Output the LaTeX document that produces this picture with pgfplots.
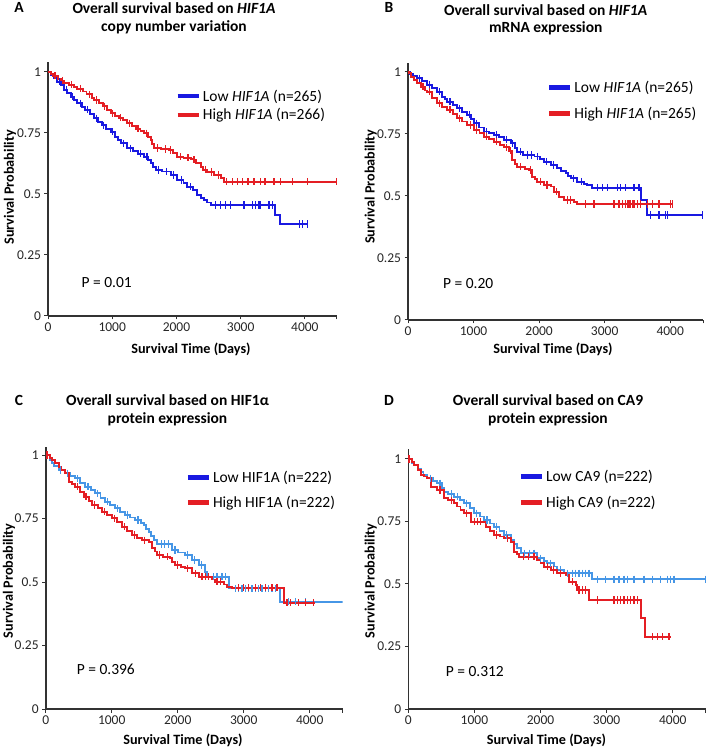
\documentclass[border=0pt]{standalone}
\usepackage{fontspec}
\setmainfont{Carlito}
\usepackage{pgfplots}
\usepackage{pgfplotstable}
\pgfplotsset{compat=1.18}

\definecolor{kmblue}{RGB}{25,25,225}
\definecolor{kmred}{RGB}{228,30,36}
\definecolor{kmlight}{RGB}{70,150,230}
\definecolor{axgray}{RGB}{50,50,50}

% t = days, s = survival, c = 1 for a censored case
\pgfplotstableread{
t s c
0 1.000 0
42 0.988 0
100 0.975 0
145 0.960 0
180 0.960 1
200 0.945 0
249 0.926 0
290 0.926 1
300 0.912 0
353 0.899 0
380 0.899 1
400 0.886 0
457 0.872 0
500 0.872 1
530 0.858 0
580 0.845 0
610 0.845 1
650 0.828 0
716 0.810 0
750 0.810 1
780 0.795 0
840 0.782 0
870 0.782 1
910 0.768 0
976 0.755 0
1010 0.755 1
1040 0.735 0
1090 0.720 0
1132 0.708 0
1180 0.708 1
1236 0.687 0
1280 0.687 1
1330 0.675 0
1400 0.665 0
1440 0.665 1
1495 0.653 0
1540 0.653 1
1560 0.640 0
1600 0.626 0
1640 0.612 0
1677 0.598 0
1720 0.598 1
1780 0.592 0
1850 0.592 1
1911 0.578 0
1960 0.578 1
2014 0.557 0
2080 0.557 1
2110 0.545 0
2170 0.530 0
2220 0.530 1
2260 0.515 0
2326 0.496 0
2380 0.485 0
2430 0.475 0
2480 0.465 0
2534 0.455 0
2612 0.455 1
2690 0.455 1
2768 0.455 1
2846 0.455 1
3053 0.455 1
3183 0.455 1
3235 0.455 1
3287 0.455 1
3313 0.455 1
3442 0.455 1
3494 0.455 1
3540 0.414 0
3608 0.377 0
3910 0.377 1
3962 0.377 1
4039 0.377 1
}\tabAlow

\pgfplotstableread{
t s c
0 1.000 0
40 0.993 0
80 0.985 0
110 0.985 1
150 0.972 0
200 0.965 0
230 0.965 1
250 0.955 0
320 0.948 0
360 0.948 1
400 0.940 0
457 0.932 0
500 0.932 1
540 0.920 0
600 0.908 0
640 0.908 1
680 0.895 0
716 0.885 0
760 0.885 1
800 0.872 0
850 0.860 0
880 0.860 1
920 0.845 0
976 0.830 0
1010 0.830 1
1050 0.820 0
1100 0.812 0
1130 0.812 1
1170 0.802 0
1236 0.790 0
1270 0.790 1
1310 0.778 0
1370 0.768 0
1400 0.768 1
1440 0.758 0
1495 0.749 0
1530 0.749 1
1560 0.735 0
1600 0.720 0
1625 0.705 0
1651 0.688 0
1700 0.688 1
1760 0.684 0
1830 0.684 1
1880 0.680 0
1911 0.680 1
1950 0.668 0
2014 0.653 0
2060 0.653 1
2110 0.648 0
2180 0.648 1
2220 0.643 0
2274 0.640 1
2310 0.628 0
2378 0.612 0
2420 0.600 0
2450 0.600 1
2481 0.590 0
2540 0.590 1
2586 0.578 0
2650 0.578 1
2690 0.565 0
2741 0.550 0
2783 0.550 1
2871 0.550 1
2949 0.550 1
3027 0.550 1
3115 0.550 1
3209 0.550 1
3313 0.550 1
3365 0.550 1
3391 0.550 1
3520 0.550 1
3624 0.550 1
3806 0.550 1
4039 0.550 1
4496 0.550 1
}\tabAhigh

\pgfplotstableread{
t s c
0 1.000 0
30 0.992 0
80 0.982 0
142 0.975 0
180 0.975 1
220 0.962 0
295 0.948 0
330 0.948 1
370 0.935 0
447 0.920 0
480 0.920 1
520 0.900 0
560 0.890 0
600 0.880 0
640 0.880 1
680 0.866 0
752 0.854 0
790 0.854 1
830 0.840 0
905 0.827 0
940 0.827 1
960 0.810 0
1007 0.793 0
1050 0.793 1
1080 0.776 0
1159 0.760 0
1200 0.760 1
1240 0.752 0
1312 0.746 0
1350 0.746 1
1390 0.736 0
1464 0.726 0
1500 0.726 1
1566 0.712 0
1600 0.712 1
1630 0.695 0
1667 0.679 0
1720 0.679 1
1760 0.665 0
1820 0.665 1
1880 0.665 1
1930 0.659 0
1972 0.659 1
2020 0.648 0
2074 0.638 0
2110 0.638 1
2176 0.625 0
2220 0.625 1
2277 0.612 0
2340 0.600 0
2405 0.591 0
2440 0.580 0
2481 0.571 0
2520 0.571 1
2582 0.558 0
2650 0.558 1
2690 0.550 0
2735 0.544 0
2811 0.533 0
2887 0.533 1
2964 0.533 1
3040 0.533 1
3192 0.533 1
3243 0.533 1
3319 0.533 1
3446 0.533 1
3523 0.533 1
3560 0.484 0
3640 0.423 0
3701 0.423 1
3828 0.423 1
3930 0.423 1
3955 0.423 1
4489 0.423 1
}\tabBlow

\pgfplotstableread{
t s c
0 1.000 0
15 0.995 0
50 0.980 0
92 0.968 0
140 0.955 0
193 0.940 0
230 0.940 1
260 0.925 0
295 0.920 0
330 0.920 1
370 0.895 0
447 0.874 0
480 0.874 1
520 0.860 0
600 0.847 0
640 0.847 1
680 0.830 0
752 0.813 0
790 0.813 1
830 0.800 0
905 0.786 0
950 0.786 1
1007 0.766 0
1050 0.766 1
1090 0.752 0
1159 0.739 0
1200 0.739 1
1240 0.730 0
1312 0.719 0
1350 0.719 1
1400 0.707 0
1464 0.696 0
1500 0.696 1
1540 0.683 0
1560 0.683 1
1591 0.645 0
1630 0.630 0
1667 0.618 0
1720 0.618 1
1780 0.610 0
1845 0.605 0
1870 0.605 1
1896 0.578 0
1940 0.568 0
1972 0.558 0
2020 0.558 1
2074 0.544 0
2120 0.544 1
2176 0.538 0
2227 0.517 0
2260 0.517 1
2303 0.497 0
2379 0.484 0
2430 0.484 1
2481 0.484 1
2532 0.476 0
2582 0.468 0
2709 0.468 1
2837 0.468 1
3142 0.468 1
3218 0.468 1
3269 0.468 1
3319 0.468 1
3345 0.468 1
3370 0.468 1
3396 0.468 1
3421 0.468 1
3446 0.468 1
3497 0.468 1
3548 0.468 1
3650 0.468 1
3726 0.468 1
3828 0.468 1
4006 0.468 1
4031 0.468 1
}\tabBhigh

\pgfplotstableread{
t s c
0 1.000 0
20 1.000 1
60 0.980 0
95 0.967 0
130 0.955 0
197 0.941 0
230 0.941 1
297 0.928 0
330 0.928 1
370 0.918 0
448 0.908 0
480 0.908 1
520 0.890 0
600 0.875 0
640 0.875 1
680 0.862 0
751 0.849 0
790 0.849 1
830 0.832 0
903 0.816 0
940 0.816 1
980 0.803 0
1054 0.790 0
1090 0.790 1
1130 0.777 0
1206 0.764 0
1240 0.764 1
1280 0.754 0
1357 0.744 0
1400 0.744 1
1440 0.734 0
1485 0.724 0
1520 0.710 0
1560 0.698 0
1600 0.680 0
1636 0.665 0
1686 0.650 0
1750 0.650 1
1800 0.650 1
1863 0.650 1
1913 0.626 0
1960 0.626 1
2010 0.616 0
2115 0.606 0
2150 0.606 1
2216 0.587 0
2260 0.587 1
2318 0.567 0
2360 0.567 1
2418 0.541 0
2444 0.521 0
2469 0.521 1
2545 0.521 1
2595 0.521 1
2671 0.521 1
2721 0.521 1
2772 0.475 0
2873 0.475 1
2923 0.475 1
2974 0.475 1
3024 0.475 1
3075 0.475 1
3125 0.475 1
3176 0.475 1
3226 0.475 1
3277 0.475 1
3327 0.475 1
3378 0.475 1
3428 0.475 1
3479 0.475 1
3554 0.422 0
3681 0.422 1
3782 0.422 1
3933 0.422 1
4500 0.422 0
}\tabClow

\pgfplotstableread{
t s c
0 1.000 0
20 1.000 1
60 0.990 0
95 0.980 0
140 0.967 0
197 0.954 0
240 0.940 0
297 0.928 0
348 0.895 0
400 0.885 0
448 0.875 0
480 0.875 1
520 0.855 0
575 0.836 0
610 0.836 1
650 0.818 0
701 0.803 0
740 0.803 1
790 0.790 0
853 0.777 0
890 0.777 1
930 0.764 0
1004 0.751 0
1040 0.751 1
1080 0.735 0
1156 0.718 0
1190 0.718 1
1230 0.700 0
1307 0.685 0
1340 0.685 1
1380 0.675 0
1459 0.665 0
1500 0.665 1
1560 0.659 0
1611 0.633 0
1650 0.620 0
1686 0.606 0
1730 0.606 1
1780 0.600 0
1850 0.600 1
1888 0.593 0
1920 0.580 0
1964 0.567 0
2000 0.567 1
2050 0.560 0
2115 0.554 0
2150 0.554 1
2216 0.534 0
2270 0.534 1
2318 0.521 0
2368 0.521 1
2418 0.521 1
2469 0.521 1
2519 0.510 0
2570 0.501 0
2595 0.501 1
2646 0.501 1
2700 0.490 0
2747 0.482 0
2823 0.477 0
2923 0.477 1
2999 0.477 1
3075 0.477 1
3176 0.477 1
3252 0.477 1
3327 0.477 1
3428 0.477 1
3504 0.477 1
3605 0.418 0
3656 0.418 1
3706 0.418 1
3833 0.418 1
3933 0.418 1
4060 0.418 1
4085 0.418 0
}\tabChigh

\pgfplotstableread{
t s c
0 1.000 0
11 1.000 1
50 0.985 0
86 0.976 0
140 0.962 0
187 0.949 0
230 0.936 0
288 0.923 0
330 0.923 1
380 0.912 0
439 0.903 0
480 0.903 1
510 0.885 0
540 0.869 0
600 0.860 0
650 0.860 1
691 0.849 0
740 0.849 1
780 0.836 0
843 0.823 0
880 0.823 1
930 0.803 0
994 0.783 0
1030 0.783 1
1080 0.770 0
1145 0.756 0
1190 0.756 1
1230 0.742 0
1297 0.729 0
1330 0.729 1
1380 0.712 0
1448 0.696 0
1490 0.696 1
1549 0.676 0
1600 0.660 0
1649 0.643 0
1700 0.623 0
1760 0.623 1
1830 0.623 1
1902 0.623 1
1952 0.603 0
2000 0.603 1
2050 0.592 0
2103 0.583 0
2150 0.583 1
2200 0.570 0
2254 0.556 0
2300 0.556 1
2356 0.543 0
2406 0.543 1
2482 0.543 1
2532 0.543 1
2583 0.543 1
2633 0.543 1
2684 0.543 1
2734 0.543 1
2784 0.519 0
2860 0.519 1
2986 0.519 1
3112 0.519 1
3188 0.519 1
3264 0.519 1
3314 0.519 1
3415 0.519 1
3566 0.519 1
3692 0.519 1
3818 0.519 1
3919 0.519 1
3970 0.519 1
4020 0.519 1
4500 0.519 1
}\tabDlow

\pgfplotstableread{
t s c
0 1.000 0
11 1.000 1
50 0.988 0
86 0.976 0
140 0.955 0
187 0.936 0
240 0.930 0
288 0.923 0
338 0.889 0
439 0.876 0
480 0.876 1
540 0.843 0
600 0.835 0
650 0.835 1
691 0.823 0
740 0.810 0
790 0.795 0
843 0.783 0
880 0.783 1
944 0.749 0
1000 0.749 1
1050 0.749 1
1095 0.749 1
1171 0.729 0
1230 0.712 0
1297 0.696 0
1340 0.696 1
1390 0.690 0
1448 0.683 0
1500 0.683 1
1549 0.669 0
1599 0.629 0
1640 0.620 0
1675 0.609 0
1740 0.609 1
1820 0.609 1
1902 0.609 1
1952 0.596 0
2000 0.583 0
2053 0.569 0
2100 0.569 1
2154 0.556 0
2200 0.556 1
2254 0.543 0
2300 0.543 1
2381 0.536 0
2432 0.509 0
2480 0.509 1
2532 0.496 0
2557 0.476 0
2583 0.476 1
2633 0.476 1
2684 0.476 1
2734 0.436 0
2860 0.436 1
3112 0.436 1
3163 0.436 1
3213 0.436 1
3264 0.436 1
3314 0.436 1
3365 0.436 1
3415 0.436 1
3465 0.436 1
3516 0.363 0
3576 0.289 0
3692 0.289 1
3768 0.289 1
3844 0.289 1
3944 0.289 1
3970 0.289 0
}\tabDhigh

\pgfplotsset{
  km/.style={
    scale only axis, anchor=south west,
    xmin=0, xmax=4500, ymin=0,
    axis x line=bottom, axis y line=left,
    axis line style={-, axgray, line width=1.6pt},
    tick style={axgray, line width=1pt},
    tick align=outside, major tick length=3.5pt,
    xtick={0,1000,2000,3000,4000,4500},
    xticklabels={0,1000,2000,3000,4000,{}},
    ytick={0,0.25,0.5,0.75,1},
    yticklabels={0,0.25,0.5,0.75,1},
    tick label style={font=\fontsize{13.5}{15}\selectfont, text=black!85},
    legend style={draw=none, fill=none, font=\fontsize{15.5}{17}\selectfont,
      anchor=north west, row sep=1pt},
    legend cell align=left,
    legend image code/.code={\draw[line width=4.5pt] (0pt,0pt) -- (21pt,0pt);},
  },
  kmstep/.style={const plot, no marks, line width=1.9pt, forget plot},
  kmcens/.style={only marks, mark=|, mark size=3.6pt,
    mark options={line width=1.2pt}, forget plot,
    restrict expr to domain={\thisrow{c}}{1:1}},
}

\begin{document}
\begin{tikzpicture}
\path[use as bounding box] (0pt,0pt) rectangle (708pt,748pt);

% A
\begin{axis}[km, at={(48pt,432pt)}, width=289pt, height=253.8pt, ymax=1.04,
  legend style={at={(0.43,0.908)}, row sep=2pt}]
\addlegendimage{kmblue}
\addlegendentry{Low \textit{HIF1A} (n=265)}
\addlegendimage{kmred}
\addlegendentry{High \textit{HIF1A} (n=266)}
\addplot[kmstep, kmblue] table[x=t, y=s] {\tabAlow};
\addplot[kmcens, kmblue] table[x=t, y=s] {\tabAlow};
\addplot[kmstep, kmred] table[x=t, y=s] {\tabAhigh};
\addplot[kmcens, kmred] table[x=t, y=s] {\tabAhigh};
\end{axis}

% B
\begin{axis}[km, at={(408pt,428pt)}, width=295pt, height=257pt, ymax=1.036,
  legend style={at={(0.46,0.945)}, row sep=9pt}]
\addlegendimage{kmblue}
\addlegendentry{Low \textit{HIF1A} (n=265)}
\addlegendimage{kmred}
\addlegendentry{High \textit{HIF1A} (n=265)}
\addplot[kmstep, kmblue] table[x=t, y=s] {\tabBlow};
\addplot[kmcens, kmblue] table[x=t, y=s] {\tabBlow};
\addplot[kmstep, kmred] table[x=t, y=s] {\tabBhigh};
\addplot[kmcens, kmred] table[x=t, y=s] {\tabBhigh};
\end{axis}

% C
\begin{axis}[km, at={(45.7pt,39pt)}, width=297pt, height=261.6pt, ymax=1.03,
  legend style={at={(0.46,0.925)}, row sep=8pt}]
\addlegendimage{kmblue}
\addlegendentry{Low HIF1A (n=222)}
\addlegendimage{kmred}
\addlegendentry{High HIF1A (n=222)}
\addplot[kmstep, kmlight] table[x=t, y=s] {\tabClow};
\addplot[kmcens, kmlight] table[x=t, y=s] {\tabClow};
\addplot[kmstep, kmred] table[x=t, y=s] {\tabChigh};
\addplot[kmcens, kmred] table[x=t, y=s] {\tabChigh};
\end{axis}

% D
\begin{axis}[km, at={(408.3pt,39pt)}, width=297.5pt, height=260pt, ymax=1.04,
  legend style={at={(0.36,0.935)}, row sep=9pt}]
\addlegendimage{kmblue}
\addlegendentry{Low CA9 (n=222)}
\addlegendimage{kmred}
\addlegendentry{High CA9 (n=222)}
\addplot[kmstep, kmlight] table[x=t, y=s] {\tabDlow};
\addplot[kmcens, kmlight] table[x=t, y=s] {\tabDlow};
\addplot[kmstep, kmred] table[x=t, y=s] {\tabDhigh};
\addplot[kmcens, kmred] table[x=t, y=s] {\tabDhigh};
\end{axis}

% panel letters and titles
\begin{scope}[every node/.style={font=\bfseries\fontsize{15.5}{17}\selectfont, anchor=base}]
\node at (19pt,735pt) {A};
\node at (389pt,735pt) {B};
\node at (19pt,342.3pt) {C};
\node at (389pt,342.3pt) {D};
\node at (174pt,734pt) {Overall survival based on \textit{HIF1A}};
\node at (174pt,716pt) {copy number variation};
\node at (545.7pt,732pt) {Overall survival based on \textit{HIF1A}};
\node at (545.7pt,715.5pt) {mRNA expression};
\node at (167.5pt,342.3pt) {Overall survival based on HIF1α};
\node at (167.5pt,324.7pt) {protein expression};
\node at (548pt,342.3pt) {Overall survival based on CA9};
\node at (548pt,324.7pt) {protein expression};
\end{scope}

% axis labels
\begin{scope}[every node/.style={font=\bfseries\fontsize{14.2}{16}\selectfont}]
\node[rotate=90] at (10pt,560.5pt) {Survival Probability};
\node[rotate=90] at (370.7pt,561.3pt) {Survival Probability};
\node[rotate=90] at (9pt,167pt) {Survival Probability};
\node[rotate=90] at (370.7pt,167pt) {Survival Probability};
\node at (191pt,399pt) {Survival Time (Days)};
\node at (553pt,399pt) {Survival Time (Days)};
\node at (183pt,7.3pt) {Survival Time (Days)};
\node at (546.5pt,7.3pt) {Survival Time (Days)};
\end{scope}

% p values
\begin{scope}[every node/.style={font=\fontsize{15.5}{17}\selectfont}]
\node at (106.7pt,465.5pt) {P = 0.01};
\node at (468.2pt,464.7pt) {P = 0.20};
\node at (105.8pt,78.2pt) {P = 0.396};
\node at (474.8pt,76.5pt) {P = 0.312};
\end{scope}
\end{tikzpicture}
\end{document}
